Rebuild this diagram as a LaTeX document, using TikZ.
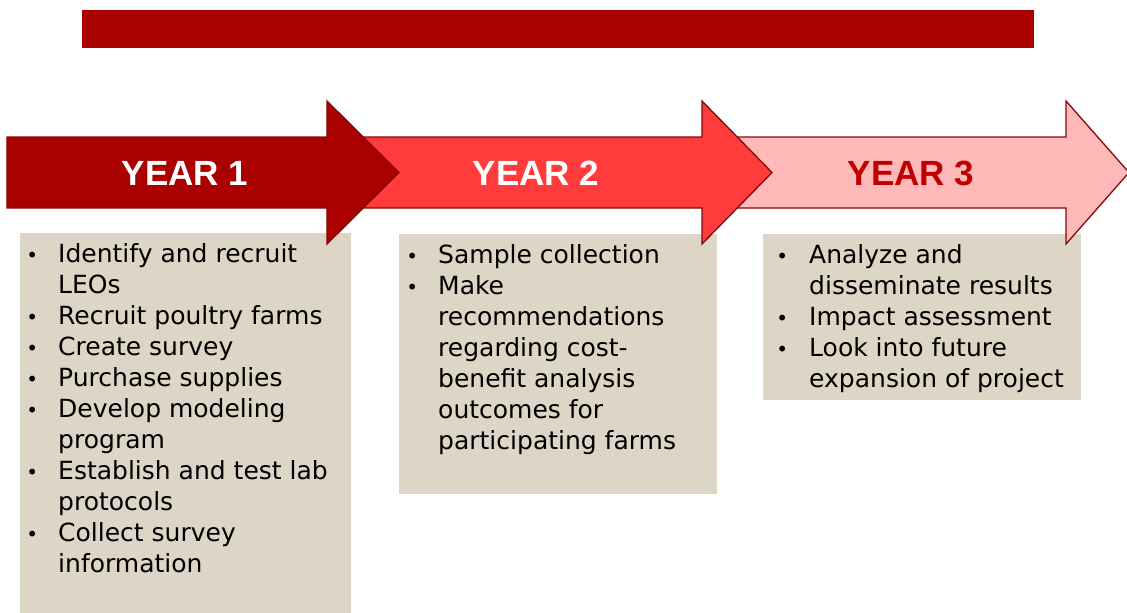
\documentclass[tikz,border=0pt]{standalone}
\usepackage{fontspec}
\setmainfont{DejaVu Sans}
\newfontfamily\headfont{Liberation Sans}
\usepackage{array}

\definecolor{barred}{HTML}{AA0000}
\definecolor{darkedge}{HTML}{850808}
\definecolor{midred}{HTML}{FF3B3B}
\definecolor{palered}{HTML}{FFB9B9}
\definecolor{yearthree}{HTML}{C00000}
\definecolor{tan}{HTML}{DDD5C5}

% bullet set as a small centred dot at the column's left edge
\newcommand{\bul}{\makebox[0pt][c]{\fontsize{20}{20}\selectfont •}}
% arrow outline: body from x0, head base at xb, tip at xt
\newcommand{\arrowpath}[3]{(#1,137) -- (#2,137) -- (#2,101) -- (#3,172.5) -- (#2,244) -- (#2,208) -- (#1,208) -- cycle}

\tikzset{
  arrowshape/.style={draw=darkedge, line width=1.3pt, line join=miter},
  yearlabel/.style={font=\headfont\bfseries\fontsize{35}{35}\selectfont, inner sep=0pt},
  taskbox/.style={fill=tan, draw=none, anchor=north west, inner sep=0pt},
  tasklist/.style={anchor=base west, inner sep=0pt, align=left,
    font=\fontsize{25}{31}\selectfont},
}

\begin{document}
\begin{tikzpicture}[x=1pt,y=-1pt]
\useasboundingbox (0,0) rectangle (1127,613);
\begin{scope}
\clip (0,0) rectangle (1127,613);

% title bar
\fill[barred] (82,10) rectangle (1034,48);

% task boxes
\node[taskbox, minimum width=331pt, minimum height=382pt] (box1) at (20,233) {};
\node[taskbox, minimum width=318pt, minimum height=260pt] (box2) at (399,234) {};
\node[taskbox, minimum width=318pt, minimum height=166pt] (box3) at (763,234) {};

% timeline arrows, last year drawn first so earlier ones overlap it
\filldraw[arrowshape, fill=palered] \arrowpath{705}{1066}{1129};
\filldraw[arrowshape, fill=midred] \arrowpath{330}{702}{772};
\filldraw[arrowshape, fill=barred] \arrowpath{7}{327}{399};

\node[yearlabel, text=white] (year1) at (185,173.5) {YEAR 1};
\node[yearlabel, text=white] (year2) at (536,173.5) {YEAR 2};
\node[yearlabel, text=yearthree] (year3) at (911,173.5) {YEAR 3};

% task lists
\node[tasklist] (list1) at (32,262) {\begin{tabular}[t]{@{}p{26pt}@{}l@{}}
\bul & Identify and recruit\\
     & LEOs\\
\bul & Recruit poultry farms\\
\bul & Create survey\\
\bul & Purchase supplies\\
\bul & Develop modeling\\
     & program\\
\bul & Establish and test lab\\
     & protocols\\
\bul & Collect survey\\
     & information
\end{tabular}};

\node[tasklist] (list2) at (412,263) {\begin{tabular}[t]{@{}p{26pt}@{}l@{}}
\bul & Sample collection\\
\bul & Make\\
     & recommendations\\
     & regarding cost-\\
     & benefit analysis\\
     & outcomes for\\
     & participating farms
\end{tabular}};

\node[tasklist] (list3) at (782,263) {\begin{tabular}[t]{@{}p{27pt}@{}l@{}}
\bul & Analyze and\\
     & disseminate results\\
\bul & Impact assessment\\
\bul & Look into future\\
     & expansion of project
\end{tabular}};
\end{scope}
\end{tikzpicture}
\end{document}
